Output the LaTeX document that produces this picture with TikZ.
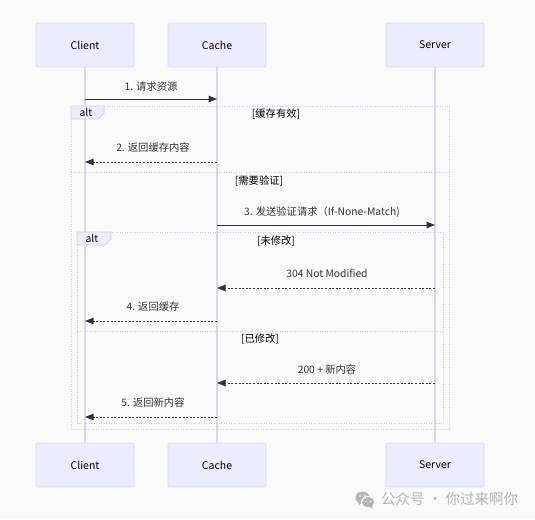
\documentclass[tikz,border=0pt]{standalone}
\usepackage{fontspec}
\setmainfont{Noto Sans CJK SC}
\usetikzlibrary{arrows.meta}
\definecolor{bgc}{HTML}{FAFAFA}
\definecolor{actorfill}{HTML}{ECECFF}
\definecolor{actorline}{HTML}{DDD6F6}
\definecolor{lifeline}{HTML}{DCD3F5}
\definecolor{framec}{HTML}{D4CCF0}
\definecolor{msgc}{HTML}{333333}
\definecolor{markc}{HTML}{B4B4B4}
\tikzset{
  actor/.style={draw=actorline, fill=actorfill, line width=0.8pt, rounded corners=1.5pt,
    minimum width=98pt, minimum height=44pt, inner sep=0pt, font=\fontsize{10.5}{12}\selectfont, text=black},
  life/.style={draw=lifeline, line width=1.4pt},
  callmsg/.style={draw=msgc, line width=1pt, -{Triangle[length=8.5pt,width=6.5pt]}},
  replymsg/.style={draw=msgc, line width=1pt, dash pattern=on 2pt off 1.6pt, -{Triangle[length=8.5pt,width=6.5pt]}},
  msglabel/.style={font=\fontsize{10.3}{12}\selectfont, text=msgc, inner sep=0pt},
  framebox/.style={draw=framec, line width=0.8pt, dash pattern=on 1pt off 1.5pt},
  tabshape/.style={draw=framec, fill=actorfill, line width=0.8pt},
  condlabel/.style={font=\fontsize{10.3}{12}\selectfont, text=black, inner sep=0pt},
}
\begin{document}
\begin{tikzpicture}[x=1pt,y=-1pt]
\useasboundingbox (0,0) rectangle (535,519);
\fill[bgc] (0,0) rectangle (535,519);

% participants, top and bottom
\node[actor] (clientT) at (85,45) {Client};
\node[actor] (cacheT)  at (217,45) {Cache};
\node[actor] (serverT) at (435,45) {Server};
\node[actor] (clientB) at (85,465) {Client};
\node[actor] (cacheB)  at (217,465) {Cache};
\node[actor] (serverB) at (435,465) {Server};

% lifelines
\draw[life] (clientT) -- (clientB);
\draw[life] (cacheT) -- (cacheB);
\draw[life] (serverT) -- (serverB);

% outer alt frame
\draw[framebox] (71,106) rectangle (449,429);
\draw[tabshape] (71,106) -- (104,106) -- (104,113) -- (98,119) -- (71,119) -- cycle;
\node[condlabel] (alt1) at (86,112.5) {alt};
\node[condlabel] (cond1) at (276,114) {[缓存有效]};
\draw[framebox] (71,172) -- (449,172);
\node[condlabel] (cond2) at (259,181) {[需要验证]};

% inner alt frame
\draw[framebox] (77,232) rectangle (443,423);
\draw[tabshape] (77,232) -- (111,232) -- (111,239) -- (105,245) -- (77,245) -- cycle;
\node[condlabel] (alt2) at (92,238.5) {alt};
\node[condlabel] (cond3) at (276,241) {[未修改]};
\draw[framebox] (77,331) -- (443,331);
\node[condlabel] (cond4) at (260,339) {[已修改]};

% message anchor points on the lifelines
\coordinate (m1a) at (85,99);   \coordinate (m1b) at (217,99);
\coordinate (m2a) at (217,162); \coordinate (m2b) at (85,162);
\coordinate (m3a) at (217,225); \coordinate (m3b) at (435,225);
\coordinate (m4a) at (435,288); \coordinate (m4b) at (217,288);
\coordinate (m5a) at (217,321); \coordinate (m5b) at (85,321);
\coordinate (m6a) at (435,383); \coordinate (m6b) at (217,383);
\coordinate (m7a) at (217,417); \coordinate (m7b) at (85,417);

% messages
\draw[callmsg] (m1a) -- (m1b);
\node[msglabel] (t1) at (151,87) {1. 请求资源};
\draw[replymsg] (m2a) -- (m2b);
\node[msglabel] (t2) at (153,148) {2. 返回缓存内容};
\draw[callmsg] (m3a) -- (m3b);
\node[msglabel] (t3) at (322,212) {3. 发送验证请求（If-None-Match)};
\draw[replymsg] (m4a) -- (m4b);
\node[msglabel] (t4) at (327,273) {304 Not Modified};
\draw[replymsg] (m5a) -- (m5b);
\node[msglabel] (t5) at (153,307) {4. 返回缓存};
\draw[replymsg] (m6a) -- (m6b);
\node[msglabel] (t6) at (327,370) {200 + 新内容};
\draw[replymsg] (m7a) -- (m7b);
\node[msglabel] (t7) at (153,403) {5. 返回新内容};

% account mark
\begin{scope}[shift={(365,500)}]
  \fill[markc] (-2.5,-2.5) ellipse (7pt and 6pt);
  \fill[markc] (-7,1.5) -- (-6,5.5) -- (-3,2) -- cycle;
  \fill[bgc] (3.2,2.2) ellipse (7.2pt and 6.2pt);
  \fill[markc] (3.2,2.2) ellipse (6pt and 5pt);
  \fill[markc] (7,6) -- (8,9) -- (4.5,6.5) -- cycle;
  \fill[bgc] (-5,-4) circle (1pt);
  \fill[bgc] (0,-4) circle (1pt);
  \fill[bgc] (1,1.5) circle (0.8pt);
  \fill[bgc] (5.5,1.5) circle (0.8pt);
\end{scope}
\node[font=\fontsize{14.5}{16}\selectfont, text=markc, anchor=west, inner sep=0pt] (mark) at (381,499) {公众号 · 你过来啊你};
\end{tikzpicture}
\end{document}
